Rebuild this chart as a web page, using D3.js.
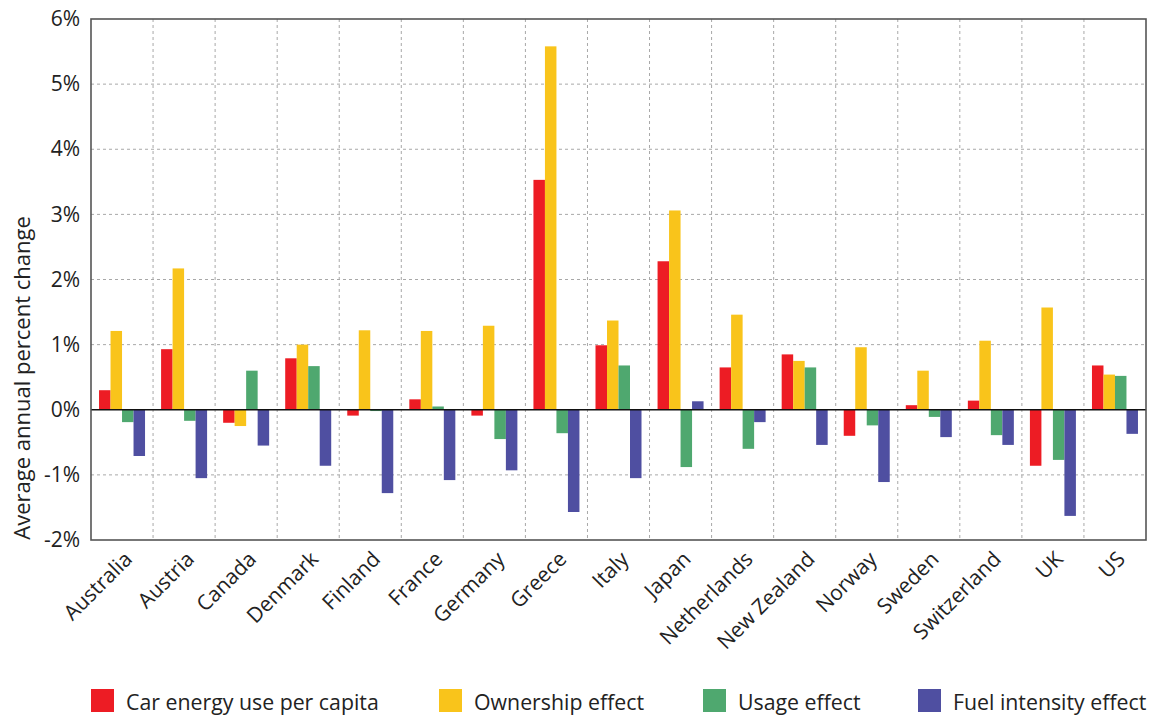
<!DOCTYPE html>
<html><head><meta charset="utf-8">
<script src="https://cdn.jsdelivr.net/npm/d3@7"></script>
<style>body{margin:0;background:#fff}svg{display:block}text{font-family:"Open Sans",sans-serif;fill:#222}</style>
</head><body><svg id="c" width="1154" height="718"></svg>
<script>
const countries = ["Australia","Austria","Canada","Denmark","Finland","France","Germany","Greece","Italy","Japan","Netherlands","New Zealand","Norway","Sweden","Switzerland","UK","US"];
const seriesNames = ["Car energy use per capita","Ownership effect","Usage effect","Fuel intensity effect"];
const carEnergy = [0.30,0.93,-0.20,0.79,-0.09,0.16,-0.09,3.53,0.99,2.28,0.65,0.85,-0.40,0.07,0.14,-0.86,0.68];
const ownership = [1.21,2.17,-0.25,1.00,1.22,1.21,1.29,5.58,1.37,3.06,1.46,0.75,0.96,0.60,1.06,1.57,0.54];
const usage = [-0.19,-0.17,0.60,0.67,-0.02,0.05,-0.45,-0.36,0.68,-0.88,-0.60,0.65,-0.24,-0.11,-0.39,-0.77,0.52];
const fuelIntensity = [-0.71,-1.05,-0.55,-0.86,-1.28,-1.08,-0.93,-1.57,-1.05,0.13,-0.19,-0.54,-1.11,-0.42,-0.54,-1.63,-0.37];
const yTicks = [-2,-1,0,1,2,3,4,5,6];
const colors = ["#ED1C24","#F9C41B","#4FA86F","#4F4FA1"];
const series = [carEnergy, ownership, usage, fuelIntensity];

const svg = d3.select("#c");
const L=91, R=1146, T=19, B=540;
const x = d3.scaleBand().domain(countries).range([L,R]).padding(0);
const y = d3.scaleLinear().domain([-2,6]).range([B,T]);
const sub = d3.scaleBand().domain(d3.range(4)).range([0,46]);
const off = (x.bandwidth()-46)/2;

// grid
const g = svg.append("g");
g.selectAll(".hg").data(yTicks.filter(d=>d!==-2&&d!==6&&d!==0)).join("line")
  .attr("x1",L).attr("x2",R).attr("y1",d=>y(d)).attr("y2",d=>y(d))
  .attr("stroke","#a8a8a8").attr("stroke-dasharray","3,3").attr("stroke-width",1);
g.selectAll(".vg").data(countries.slice(1)).join("line")
  .attr("x1",d=>x(d)).attr("x2",d=>x(d)).attr("y1",T).attr("y2",B)
  .attr("stroke","#a8a8a8").attr("stroke-dasharray","3,3").attr("stroke-width",1);

// bars
series.forEach((vals,si)=>{
  svg.append("g").selectAll("rect").data(vals).join("rect")
    .attr("x",(d,i)=>x(countries[i])+off+sub(si))
    .attr("width",sub.bandwidth())
    .attr("y",d=>y(Math.max(0,d)))
    .attr("height",d=>Math.abs(y(d)-y(0)))
    .attr("fill",colors[si]);
});

// zero line
svg.append("line").attr("x1",L).attr("x2",R).attr("y1",y(0)).attr("y2",y(0)).attr("stroke","#111").attr("stroke-width",1.5);

// frame
svg.append("rect").attr("x",L).attr("y",T).attr("width",R-L).attr("height",B-T)
  .attr("fill","none").attr("stroke","#555").attr("stroke-width",1.6);

// y axis
const ya = svg.append("g").attr("transform",`translate(${L},0)`)
  .call(d3.axisLeft(y).tickValues(yTicks).tickSize(0).tickPadding(11).tickFormat(d=>d+"%"));
ya.select(".domain").remove();
ya.selectAll("text").style("font-size","21px").style("font-family","'Open Sans',sans-serif").attr("fill","#222");

// x axis labels
const xa = svg.append("g").attr("transform",`translate(0,${B})`)
  .call(d3.axisBottom(x).tickSize(0).tickPadding(0));
xa.select(".domain").remove();
xa.selectAll("text")
  .style("font-size","21px").style("font-family","'Open Sans',sans-serif").attr("fill","#222")
  .attr("text-anchor","end").attr("dy",null).attr("y",0)
  .attr("transform","translate(-1,8) rotate(-45)")
  .attr("dominant-baseline","hanging");

// y title
svg.append("text").attr("transform","translate(30,378) rotate(-90)")
  .attr("text-anchor","middle").style("font-size","22px").text("Average annual percent change");

// legend
const legX = [91,439,703,918];
const lg = svg.append("g");
seriesNames.forEach((n,i)=>{
  lg.append("rect").attr("x",legX[i]).attr("y",689).attr("width",23).attr("height",23).attr("fill",colors[i]);
  lg.append("text").attr("x",legX[i]+35).attr("y",710).style("font-size","21.3px").text(n);
});
</script></body></html>
